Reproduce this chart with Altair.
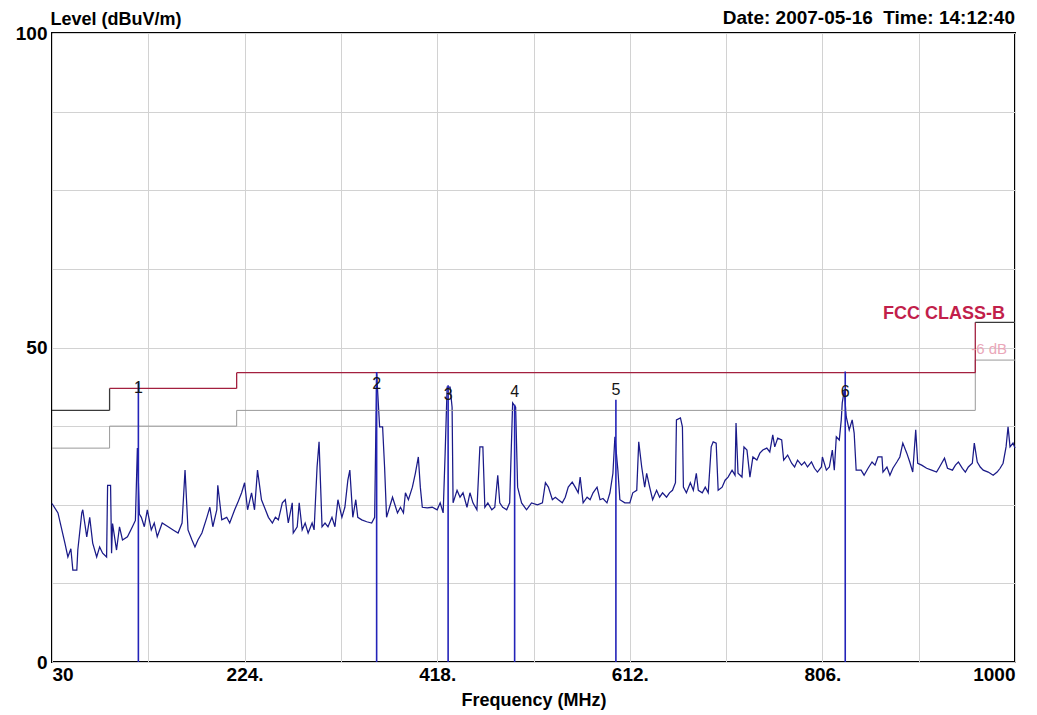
import altair as alt
import pandas as pd

# ---------------- data ----------------
freq = [
    30, 36, 43, 46, 49, 51, 55, 56, 60, 61,
    65, 68, 71, 75, 78, 81, 85, 86, 89, 90,
    91, 95, 98, 101, 106, 111, 114, 116, 118, 120,
    123, 126, 130, 133, 136, 141, 147, 152, 157, 161,
    164, 167, 171, 174, 177, 181, 186, 189, 192, 196,
    197, 201, 206, 209, 214, 217, 221, 224, 227, 231,
    234, 237, 241, 244, 248, 252, 255, 258, 262, 265,
    268, 272, 273, 277, 279, 282, 285, 288, 292, 294,
    297, 299, 302, 305, 308, 312, 315, 318, 322, 325,
    328, 330, 333, 336, 338, 342, 347, 352, 355, 357,
    360, 363, 365, 367, 370, 373, 378, 381, 384, 386,
    389, 393, 396, 399, 401, 403, 408, 413, 418, 421,
    424, 426, 428, 431, 433, 434, 438, 441, 444, 448,
    451, 454, 458, 461, 464, 466, 469, 473, 476, 479,
    481, 484, 488, 491, 494, 497, 499, 503, 508, 513,
    519, 524, 527, 530, 534, 537, 540, 544, 547, 550,
    554, 557, 560, 562, 565, 569, 572, 575, 579, 582,
    585, 589, 592, 595, 597, 600, 602, 607, 612, 615,
    619, 621, 624, 627, 629, 632, 635, 639, 642, 645,
    649, 652, 655, 658, 659, 663, 665, 666, 669, 673,
    676, 679, 681, 685, 688, 691, 694, 696, 699, 701,
    705, 708, 711, 715, 718, 719, 721, 725, 727, 730,
    733, 736, 740, 743, 746, 750, 753, 756, 758, 761,
    765, 767, 771, 775, 778, 781, 785, 788, 791, 795,
    798, 801, 805, 806, 810, 813, 816, 818, 820, 823,
    825, 826, 828, 830, 833, 836, 838, 840, 845, 848,
    852, 856, 859, 862, 866, 867, 871, 874, 877, 881,
    884, 887, 891, 894, 897, 900, 902, 906, 911, 916,
    921, 924, 929, 932, 937, 940, 943, 947, 950, 953,
    957, 959, 962, 965, 968, 973, 978, 982, 985, 988,
    991, 993, 995, 998, 1000,
]
level = [
    25.2, 23.7, 18.9, 16.7, 18.0, 14.6, 14.6, 17.8, 23.7, 24.2,
    19.9, 23.0, 18.9, 16.7, 18.3, 17.3, 16.7, 28.1, 28.1, 17.3,
    22.0, 17.8, 21.5, 19.4, 19.9, 21.5, 22.5, 34.0, 23.5, 23.0,
    21.5, 24.2, 21.0, 22.1, 19.9, 22.1, 21.5, 21.0, 20.5, 22.1,
    30.5, 21.0, 19.4, 18.3, 19.4, 20.5, 23.0, 24.6, 21.5, 24.2,
    28.1, 22.6, 23.0, 22.1, 24.2, 25.3, 26.9, 28.5, 24.2, 26.9,
    24.2, 30.5, 25.8, 24.6, 23.0, 22.1, 23.0, 22.6, 25.3, 25.8,
    22.1, 25.3, 20.5, 21.5, 25.3, 21.0, 22.1, 20.5, 22.1, 21.0,
    31.0, 35.0, 21.5, 22.1, 21.5, 23.0, 21.5, 25.8, 23.0, 24.6,
    28.9, 30.5, 23.0, 25.8, 23.0, 22.6, 22.3, 22.1, 23.0, 45.9,
    37.4, 37.4, 31.0, 23.0, 24.6, 26.2, 23.7, 24.6, 23.7, 26.9,
    25.8, 27.8, 30.0, 32.6, 27.8, 24.6, 24.5, 24.6, 24.2, 25.3,
    23.7, 33.2, 43.7, 43.7, 40.5, 25.3, 27.3, 26.2, 26.9, 24.6,
    26.9, 25.3, 24.2, 34.2, 34.2, 24.6, 25.3, 24.2, 24.6, 29.7,
    25.3, 24.6, 24.2, 25.3, 41.2, 40.5, 27.8, 25.3, 24.2, 25.3,
    25.0, 25.3, 28.5, 27.8, 25.8, 26.2, 25.8, 25.3, 26.2, 27.8,
    28.6, 27.8, 26.9, 29.4, 25.3, 26.2, 25.8, 26.9, 27.8, 25.8,
    26.0, 25.3, 26.9, 30.0, 35.8, 30.5, 25.8, 25.3, 25.3, 26.9,
    27.3, 35.0, 31.0, 27.8, 30.0, 27.8, 25.8, 27.3, 26.2, 26.9,
    26.2, 26.9, 27.3, 28.5, 38.5, 38.8, 37.4, 27.8, 26.9, 28.5,
    27.3, 30.0, 27.3, 26.9, 27.8, 26.9, 34.2, 35.0, 34.8, 27.3,
    27.8, 28.9, 29.4, 30.5, 29.7, 38.0, 30.0, 29.4, 34.2, 33.7,
    29.4, 32.6, 32.1, 33.2, 33.7, 34.0, 33.4, 36.1, 34.2, 35.6,
    35.3, 32.1, 32.9, 31.6, 31.0, 32.1, 31.3, 31.8, 31.0, 31.8,
    30.8, 30.2, 31.0, 32.6, 30.5, 31.0, 33.7, 30.5, 35.8, 35.3,
    38.5, 41.2, 43.2, 39.0, 36.9, 38.5, 36.4, 30.5, 30.5, 29.7,
    30.8, 31.8, 31.3, 32.6, 32.6, 30.2, 31.0, 29.7, 30.8, 31.8,
    32.6, 34.8, 33.2, 31.8, 30.2, 36.9, 31.6, 31.3, 30.8, 30.5,
    30.2, 31.0, 32.4, 30.8, 30.5, 31.3, 31.8, 30.8, 30.2, 31.0,
    31.6, 34.8, 31.8, 31.0, 30.5, 30.2, 29.7, 30.2, 30.8, 31.6,
    34.2, 37.4, 34.2, 34.8, 34.0,
]
assert len(freq) == len(level)

# FCC Class B limit (stepped) and the -6 dB margin line
fcc_freq = [30, 88, 88, 216, 216, 960, 960, 1000]
fcc_level = [40, 40, 43.5, 43.5, 46, 46, 54, 54]
margin_db = 6

# measurement markers
marker_name = ["1", "2", "3", "4", "5", "6"]
marker_freq = [117, 357, 429, 496, 598, 829]
marker_level = [44.4, 46.1, 44.0, 40.9, 41.7, 46.2]
marker_label_level = [42.8, 43.4, 41.6, 42.1, 42.4, 42.1]

x_ticks = [30, 127, 224, 321, 418, 515, 612, 709, 806, 903, 1000]
y_ticks = [0, 12.5, 25, 37.5, 50, 62.5, 75, 87.5, 100]

limit_name = "FCC CLASS-B"
margin_name = "-6 dB"
date_text = "Date: 2007-05-16 \u00a0Time: 14:12:40"

# ---------------- chart ----------------
FONT = "Liberation Sans"
W, H = 963, 629

x_scale = alt.Scale(domain=[30, 1000], nice=False, zero=False)
y_scale = alt.Scale(domain=[0, 100], nice=False, zero=True)

x_axis = alt.Axis(
    values=x_ticks,
    format="d",
    labelExpr="(datum.value == 30 || datum.value == 1000) ? datum.label : "
              "((datum.value - 30) % 194 == 0 ? datum.label + '.' : '')",
    labelFlush=True,
    labelOverlap=False,
    labelFont=FONT, labelFontSize=19, labelFontWeight="bold", labelColor="black",
    labelPadding=3,
    ticks=False, domain=False,
    grid=True, gridColor="#d2d2d2", gridWidth=1,
    title="Frequency (MHz)",
    titleFont=FONT, titleFontSize=18, titleFontWeight="bold", titleColor="black",
    titleY=43, titleBaseline="alphabetic",
)
y_axis = alt.Axis(
    values=y_ticks,
    labelExpr="datum.value % 50 == 0 ? datum.label : ''",
    labelOverlap=False,
    labelFont=FONT, labelFontSize=19, labelFontWeight="bold", labelColor="black",
    labelPadding=5,
    ticks=False, domain=False,
    grid=True, gridColor="#d2d2d2", gridWidth=1,
    title="Level (dBuV/m)",
    titleFont=FONT, titleFontSize=18, titleFontWeight="bold", titleColor="black",
    titleAngle=0, titleAlign="left", titleBaseline="alphabetic",
    titleX=-2, titleY=-9,
)


def X(field):
    return alt.X(field, scale=x_scale, axis=x_axis)


def Y(field):
    return alt.Y(field, scale=y_scale, axis=y_axis)


trace_df = pd.DataFrame({"f": freq, "v": level, "i": list(range(len(freq)))})

seg_rows = []
for k in range(len(fcc_freq) - 1):
    seg_rows.append({
        "k": k,
        "f": fcc_freq[k], "f2": fcc_freq[k + 1],
        "v": fcc_level[k], "v2": fcc_level[k + 1],
        "m": fcc_level[k] - margin_db, "m2": fcc_level[k + 1] - margin_db,
    })
seg_df = pd.DataFrame(seg_rows)

marker_df = pd.DataFrame({
    "f": marker_freq, "v": [0] * len(marker_freq), "v2": marker_level,
    "lv": marker_label_level, "t": marker_name,
})

trace_layer = alt.Chart(trace_df).mark_line(color="#1a1a88", strokeWidth=1.25).encode(
    x=X("f:Q"), y=Y("v:Q"), order="i:Q",
)

margin_layer = alt.Chart(seg_df).mark_rule(color="#9a9a9a", strokeWidth=1).encode(
    x=X("f:Q"), x2="f2:Q", y=Y("m:Q"), y2="m2:Q",
)

fcc_layer = alt.Chart(seg_df).mark_rule(strokeWidth=1.3).encode(
    x=X("f:Q"), x2="f2:Q", y=Y("v:Q"), y2="v2:Q",
    color=alt.condition("datum.k < 2 || datum.k > 5",
                        alt.value("#3a3a3a"), alt.value("#a3203f")),
)

marker_layer = alt.Chart(marker_df).mark_rule(color="#2323b8", strokeWidth=1.6).encode(
    x=X("f:Q"), y=Y("v:Q"), y2="v2:Q",
)

marker_text = alt.Chart(marker_df).mark_text(
    font=FONT, fontSize=16, color="#151515", baseline="alphabetic", align="center",
).encode(x=X("f:Q"), y=Y("lv:Q"), text="t:N")

fcc_text = alt.Chart(pd.DataFrame({"f": [990], "v": [54.6], "t": [limit_name]})).mark_text(
    font=FONT, fontSize=18, fontWeight="bold", color="#c21f4b",
    align="right", baseline="alphabetic",
).encode(x=X("f:Q"), y=Y("v:Q"), text="t:N")

margin_text = alt.Chart(pd.DataFrame({"f": [992], "v": [48.9], "t": [margin_name]})).mark_text(
    font=FONT, fontSize=15, color="#eaa7b9", align="right", baseline="alphabetic",
).encode(x=X("f:Q"), y=Y("v:Q"), text="t:N")

date_layer = alt.Chart(pd.DataFrame({"t": [date_text]})).mark_text(
    font=FONT, fontSize=19, fontWeight="bold", color="black",
    align="right", baseline="alphabetic",
).encode(x=alt.value(W), y=alt.value(-9), text="t:N")

chart = alt.layer(
    trace_layer, margin_layer, fcc_layer, marker_layer,
    marker_text, fcc_text, margin_text, date_layer,
).properties(
    width=W, height=H,
    autosize=alt.AutoSizeParams(type="none"),
    padding={"left": 44, "top": 25, "right": 14, "bottom": 48},
    background="white",
).configure_view(stroke="black", strokeWidth=2)

chart.save("out.html", embed_options={"renderer": "svg", "actions": False})
